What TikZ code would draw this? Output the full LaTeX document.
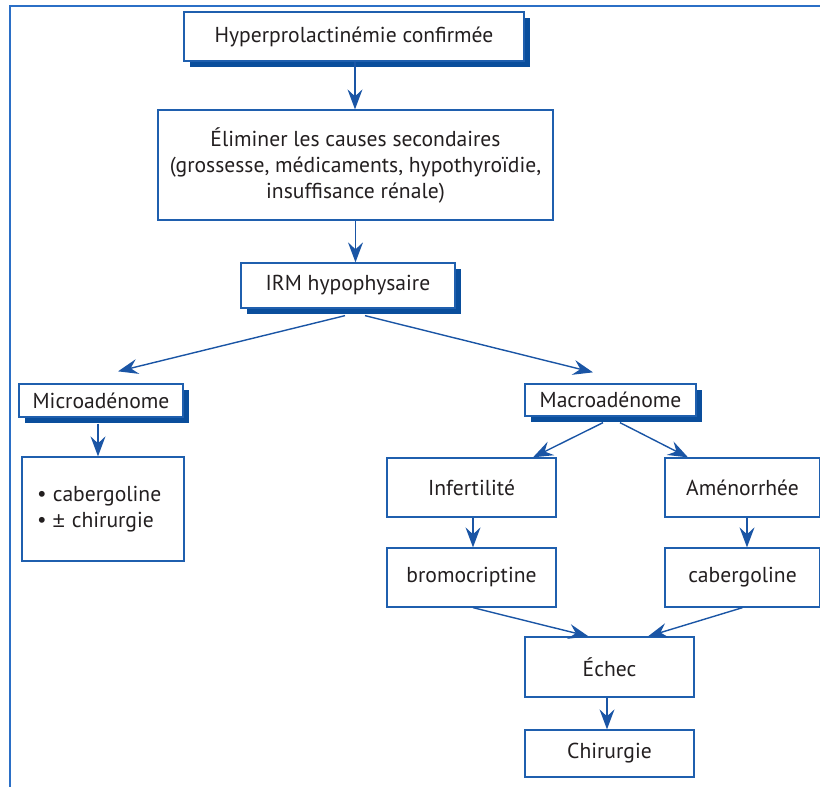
\documentclass[tikz,border=0pt]{standalone}
\usepackage{fontspec}
\setmainfont{PT Sans}
\newfontfamily\symfont{Liberation Sans}
\usetikzlibrary{arrows.meta,shadows,calc}
\definecolor{boxblue}{HTML}{1F5FAE}
\definecolor{shadowblue}{HTML}{0A4E9C}
\definecolor{arrowblue}{HTML}{1A55A5}
\definecolor{frameblue}{HTML}{2B6FC6}
\definecolor{txt}{HTML}{231F20}
\begin{document}
\begin{tikzpicture}[x=1pt,y=-1pt,
  box/.style={draw=boxblue, line width=1.3pt, fill=white, text=txt, align=center, inner sep=0pt, font=\fontsize{21.6}{26}\selectfont},
  sbox/.style={box, drop shadow={shadow xshift=6pt, shadow yshift=-6pt, fill=shadowblue, opacity=1}},
  arr/.style={draw=arrowblue, line width=1.4pt, -{Stealth[length=20pt,width=15pt,inset=7pt]}},
]
\useasboundingbox (0,0) rectangle (820,787);
\draw[frameblue, line width=2pt] (10,787) -- (10,6) -- (820,6);

\node[sbox, minimum width=340pt, minimum height=49pt] (conf) at (354,36.5) {Hyperprolactinémie confirmée};
\node[box, minimum width=395pt, minimum height=110pt] (elim) at (355.5,165) {Éliminer les causes secondaires\\(grossesse, médicaments, hypothyroïdie,\\insuffisance rénale)};
\node[sbox, minimum width=214pt, minimum height=45pt] (irm) at (348,285.5) {IRM hypophysaire};
\node[sbox, minimum width=164pt, minimum height=33pt] (micro) at (101,400.5) {Microadénome};
\node[box, minimum width=162pt, minimum height=104pt, text width=130pt, align=left] (trt) at (103,509) {{\symfont •} cabergoline\\{\symfont •} {\symfont ±} chirurgie};
\node[sbox, minimum width=171pt, minimum height=32pt] (macro) at (610.5,400) {Macroadénome};
\node[box, minimum width=169pt, minimum height=59pt] (infert) at (471.5,487.5) {Infertilité};
\node[box, minimum width=155pt, minimum height=59pt] (amen) at (742.5,487.5) {Aménorrhée};
\node[box, minimum width=169pt, minimum height=59pt] (bromo) at (471.5,577.5) {bromocriptine};
\node[box, minimum width=155pt, minimum height=59pt] (cab) at (742.5,577.5) {cabergoline};
\node[box, minimum width=169pt, minimum height=60pt] (echec) at (609.5,667) {Échec};
\node[box, minimum width=169pt, minimum height=47pt] (chir) at (609.5,753.5) {Chirurgie};

\draw[arr] ([xshift=1pt]conf.south) -- ([xshift=1pt]conf.south |- elim.north);
\draw[arr] (elim.south) -- (elim.south |- irm.north);
\draw[arr] ([xshift=-3pt,yshift=-7pt]irm.south) -- ([xshift=17pt,yshift=12pt]micro.north);
\draw[arr] ([xshift=17pt,yshift=-7pt]irm.south) -- ([xshift=-17.5pt,yshift=11pt]macro.north);
\draw[arr] ([xshift=-3pt,yshift=-6pt]micro.south) -- ([xshift=-3pt]micro.south |- trt.north);
\draw[arr] ([xshift=-7.5pt,yshift=-6pt]macro.south) -- ([xshift=61.5pt]infert.north);
\draw[arr] ([xshift=9.5pt,yshift=-6pt]macro.south) -- ([xshift=-54.5pt]amen.north);
\draw[arr] ([xshift=1.5pt]infert.south) -- ([xshift=1.5pt]bromo.north);
\draw[arr] ([xshift=4.5pt]amen.south) -- ([xshift=4.5pt]cab.north);
\draw[arr] ([xshift=1.5pt]bromo.south) -- ([xshift=-21pt]echec.north);
\draw[arr] (cab.south) -- ([xshift=38.5pt]echec.north);
\draw[arr] ([xshift=-2.5pt]echec.south) -- ([xshift=-2.5pt]chir.north);
\end{tikzpicture}
\end{document}
